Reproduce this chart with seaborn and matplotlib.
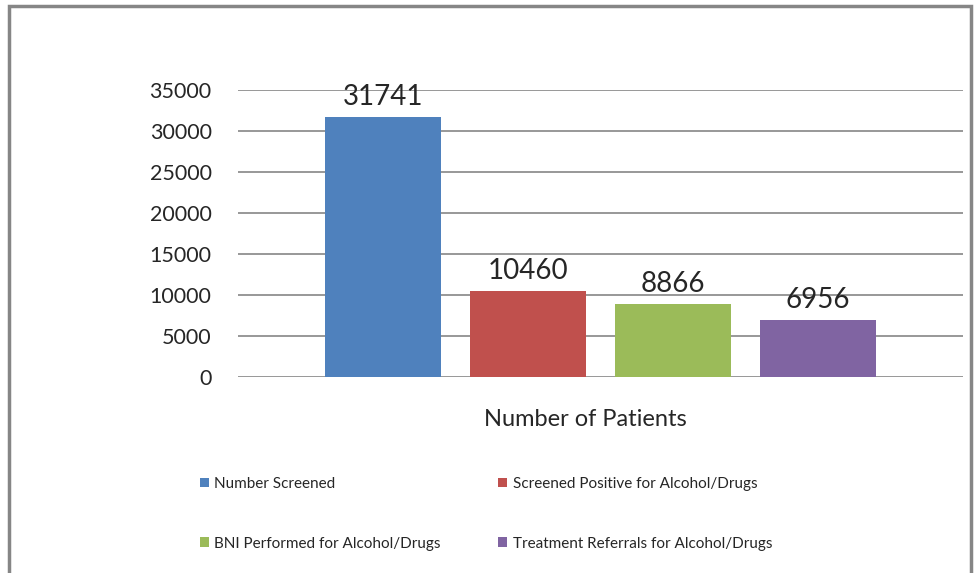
import matplotlib
matplotlib.use("Agg")
import matplotlib.pyplot as plt
from matplotlib.patches import Rectangle
import pandas as pd
import seaborn as sns

# chart values
category = "Number of Patients"
series = [
    "Number Screened",
    "Screened Positive for Alcohol/Drugs",
    "BNI Performed for Alcohol/Drugs",
    "Treatment Referrals for Alcohol/Drugs",
]
values = [31741, 10460, 8866, 6956]
colors = ["#4F81BD", "#C0504D", "#9BBB59", "#8064A2"]
yticks = [0, 5000, 10000, 15000, 20000, 25000, 30000, 35000]

df = pd.DataFrame({"category": [category] * len(series), "series": series, "value": values})

sns.set_style("white")
plt.rcParams["font.family"] = ["Lato", "DejaVu Sans"]

fig = plt.figure(figsize=(9.77, 5.73), dpi=100)
ax = fig.add_axes([238 / 977, 1 - 377 / 573, 725 / 977, 287 / 573])

sns.barplot(data=df, x="category", y="value", hue="series", palette=colors,
            width=0.8, gap=0.2, saturation=1, linewidth=0, ax=ax)

ax.set_xlim(-0.5, 0.5)
ax.set_ylim(0, 35000)
ax.set_yticks(yticks)
ax.set_yticklabels([str(t) for t in yticks], fontsize=15.5)
ax.yaxis.grid(True, color="#868686", linewidth=1.2)
ax.set_axisbelow(True)
ax.tick_params(axis="y", length=0, pad=19)
ax.tick_params(axis="x", length=0)
ax.set_xticklabels([])
ax.set_xlabel(category, fontsize=17)
ax.xaxis.set_label_coords((585 - 238) / 725, -0.11)
ax.set_ylabel("")
for s in ax.spines.values():
    s.set_visible(False)

for cont in ax.containers:
    ax.bar_label(cont, padding=5, fontsize=20)

handles, labels = ax.get_legend_handles_labels()
ax.get_legend().remove()
order = [0, 2, 1, 3]  # fill rows first, like the original
fig.legend([handles[i] for i in order], [labels[i] for i in order], ncol=2,
           loc="upper left", bbox_to_anchor=(186 / 977, 1 - 463 / 573), frameon=False,
           fontsize=11, handlelength=0.6, handleheight=0.6, handletextpad=0.35,
           labelspacing=3.0, columnspacing=3.75)

# outer chart frame
fig.patches.append(Rectangle((9 / 977, -0.05), 962 / 977, 1.05 - 6 / 573,
                             transform=fig.transFigure, fill=False,
                             edgecolor="#868686", linewidth=2.5))

fig.savefig("out.png", dpi=100)
